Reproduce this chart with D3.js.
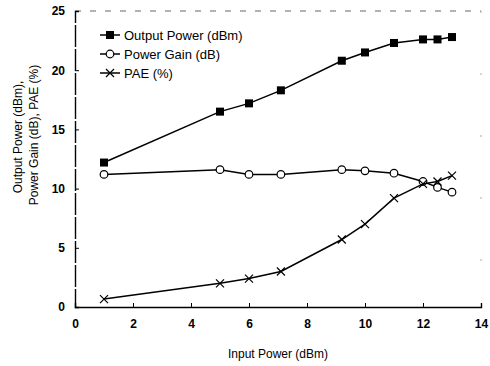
<!DOCTYPE html>
<html><head><meta charset="utf-8">
<script src="https://cdn.jsdelivr.net/npm/d3@7"></script>
<style>body{margin:0;background:#fff;} text{font-family:"Liberation Sans",Arial,sans-serif;fill:#000;}</style>
</head><body>
<svg id="c" width="490" height="366"></svg>
<script>
const inputPower = [1, 5, 6, 7.1, 9.2, 10, 11, 12, 12.5, 13];
const outputPower = [12.2, 16.5, 17.2, 18.3, 20.8, 21.5, 22.3, 22.6, 22.6, 22.8];
const powerGain = [11.2, 11.6, 11.2, 11.2, 11.6, 11.5, 11.3, 10.6, 10.1, 9.7];
const pae = [0.67, 2.0, 2.4, 3.0, 5.7, 7.0, 9.2, 10.4, 10.6, 11.1];
const xTicks = [0, 2, 4, 6, 8, 10, 12, 14];
const yTicks = [0, 5, 10, 15, 20, 25];
const seriesNames = ["Output Power (dBm)", "Power Gain (dB)", "PAE (%)"];

const svg = d3.select("#c");
const L = 75, R = 481, T = 11, B = 307;
const x = d3.scaleLinear().domain([0, 14]).range([L, R]);
const y = d3.scaleLinear().domain([0, 25]).range([B, T]);

// frame
svg.append("line").attr("x1", L).attr("x2", R).attr("y1", T).attr("y2", T)
  .attr("stroke", "#666").attr("stroke-width", 1).attr("stroke-dasharray", "6,9");
svg.append("line").attr("x1", R).attr("x2", R).attr("y1", T).attr("y2", B)
  .attr("stroke", "#aaa").attr("stroke-width", 1).attr("stroke-dasharray", "2,60");

const yAxis = d3.axisLeft(y).tickValues(yTicks).tickSize(-4).tickPadding(10).tickFormat(d3.format("d"));
const gy = svg.append("g").attr("transform", `translate(${L},0)`).call(yAxis);
gy.select(".domain").attr("stroke", "#000").attr("stroke-width", 1.4).attr("stroke-dasharray", "22,2");
gy.selectAll("text").attr("font-size", 12).attr("font-weight", "bold");

const xAxis = d3.axisBottom(x).tickValues(xTicks).tickSize(-4).tickPadding(12).tickFormat(d3.format("d"));
const gx = svg.append("g").attr("transform", `translate(0,${B})`).call(xAxis);
gx.select(".domain").attr("stroke", "#000").attr("stroke-width", 1.4);
gx.selectAll("text").attr("font-size", 12).attr("font-weight", "bold");

svg.append("text").attr("x", 278).attr("y", 358).attr("text-anchor", "middle").attr("font-size", 12).text("Input Power (dBm)");
svg.append("text").attr("transform", "translate(22,137) rotate(-90)").attr("text-anchor", "middle").attr("font-size", 12).text("Output Power (dBm),");
svg.append("text").attr("transform", "translate(38,135) rotate(-90)").attr("text-anchor", "middle").attr("font-size", 12).text("Power Gain (dB), PAE (%)");

const line = d3.line().x(d => x(d[0])).y(d => y(d[1]));
const series = [outputPower, powerGain, pae];
const kinds = ["square", "circle", "cross"];

function marker(g, kind, cx, cy) {
  if (kind === "square") {
    g.append("rect").attr("x", cx - 4).attr("y", cy - 4).attr("width", 8).attr("height", 8).attr("fill", "#000");
  } else if (kind === "circle") {
    g.append("circle").attr("cx", cx).attr("cy", cy).attr("r", 3.8).attr("fill", "#fff").attr("stroke", "#000").attr("stroke-width", 1.2);
  } else {
    g.append("path").attr("d", `M${cx-4},${cy-4}L${cx+4},${cy+4}M${cx-4},${cy+4}L${cx+4},${cy-4}`).attr("stroke", "#000").attr("stroke-width", 1.2);
  }
}

series.forEach((vals, i) => {
  const pts = inputPower.map((v, j) => [v, vals[j]]);
  svg.append("path").datum(pts).attr("d", line).attr("fill", "none").attr("stroke", "#000").attr("stroke-width", 1.5);
  const g = svg.append("g");
  pts.forEach(p => marker(g, kinds[i], x(p[0]), y(p[1])));
});

// legend
seriesNames.forEach((name, i) => {
  const ly = 35 + i * 19;
  svg.append("line").attr("x1", 100).attr("x2", 120).attr("y1", ly).attr("y2", ly).attr("stroke", "#000").attr("stroke-width", 1.5);
  marker(svg.append("g"), kinds[i], 110, ly);
  svg.append("text").attr("x", 124).attr("y", ly + 4.5).attr("font-size", 13).text(name);
});
</script>
</body></html>
